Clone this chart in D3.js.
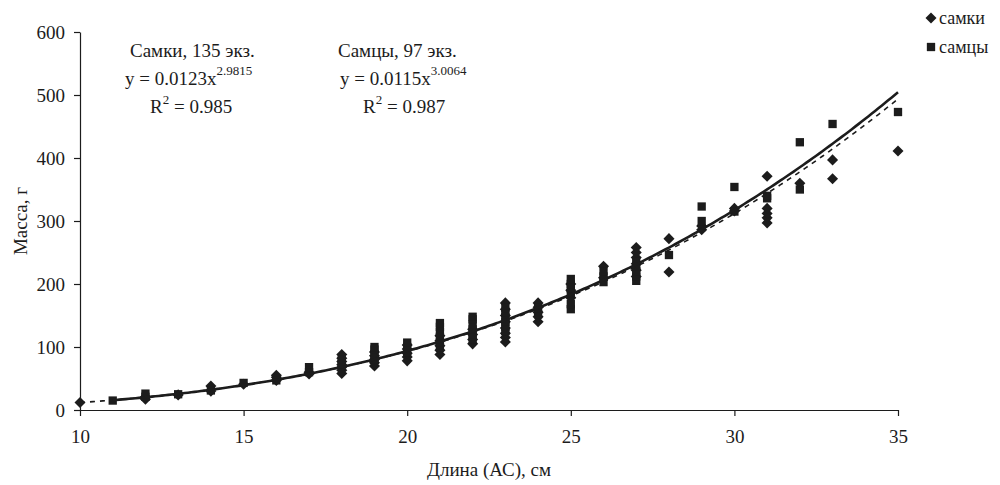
<!DOCTYPE html>
<html>
<head>
<meta charset="utf-8">
<script src="https://cdn.jsdelivr.net/npm/d3@7"></script>
<style>
    body { margin: 0; background: #fff; }
    svg { font-family: "Liberation Serif", "DejaVu Serif", serif; }
</style>
</head>
<body>
<svg id="chart"></svg>
<script>
const width = 1000, height = 485;

// Самки (diamonds): length (cm) and mass (g)
const femaleLength = [10, 12, 12, 13, 14, 14, 15, 16, 16, 16, 17, 17,
    18, 18, 18, 18, 18, 18, 18, 19, 19, 19, 19, 19, 20, 20, 20, 20, 20,
    21, 21, 21, 21, 21, 22, 22, 22, 22, 23, 23, 23, 23, 23, 23, 23, 23,
    24, 24, 24, 24, 24, 25, 25, 25, 26, 26, 27, 27, 27, 27, 27, 27,
    28, 28, 29, 29, 30, 30, 31, 31, 31, 31, 31, 32, 33, 33, 35];
const femaleMass = [12, 17, 21, 24, 30, 38, 41, 47, 52, 55, 57, 60,
    58, 63, 68, 72, 77, 82, 88, 70, 75, 80, 86, 92, 78, 84, 90, 97, 103,
    88, 95, 102, 110, 118, 105, 112, 120, 128, 108, 115, 122, 130, 140, 150, 160, 170,
    140, 148, 155, 163, 170, 178, 190, 200, 210, 228, 212, 222, 232, 242, 250, 258,
    219, 272, 286, 292, 316, 320, 297, 305, 312, 320, 371, 360, 367, 397, 411];

// Самцы (squares)
const maleLength = [11, 12, 12, 13, 14, 15, 16, 17, 17, 18, 18,
    19, 19, 19, 19, 20, 20, 20, 21, 21, 21, 21, 21, 21,
    22, 22, 22, 22, 22, 22, 23, 23, 23, 23, 23, 23, 24, 24,
    25, 25, 25, 25, 25, 25, 26, 26, 26, 27, 27, 27, 27, 27,
    28, 29, 29, 30, 30, 31, 31, 32, 32, 33, 35];
const maleMass = [15, 21, 26, 25, 31, 43, 47, 60, 68, 73, 80,
    80, 88, 96, 100, 92, 100, 107, 100, 108, 116, 124, 132, 138,
    112, 120, 128, 136, 144, 148, 125, 132, 140, 148, 155, 162, 152, 162,
    160, 168, 185, 193, 200, 208, 203, 212, 220, 205, 212, 220, 228, 235,
    246, 300, 323, 315, 354, 336, 340, 350, 425, 454, 473];

// power trendlines y = a * x^b, as printed on the chart
const femaleFit = [0.0123, 2.9815];   // a, b
const maleFit = [0.0115, 3.0064];
const femaleFitRange = [10, 35];
const maleFitRange = [11, 35];

const xTicks = [10, 15, 20, 25, 30, 35];
const yTicks = [0, 100, 200, 300, 400, 500, 600];

const ink = "#1c1c1c";

const svg = d3.select("#chart")
    .attr("width", width)
    .attr("height", height);

const x = d3.scaleLinear().domain([10, 35]).range([80, 898]);
const y = d3.scaleLinear().domain([0, 600]).range([410, 32]);

// axes
const yAxis = svg.append("g")
    .attr("transform", "translate(80,0)")
    .call(d3.axisLeft(y).tickValues(yTicks).tickSize(6).tickSizeOuter(0).tickPadding(9));

const xAxis = svg.append("g")
    .attr("transform", "translate(0,410)")
    .call(d3.axisBottom(x).tickValues(xTicks).tickSize(6).tickSizeOuter(0).tickPadding(14));

[yAxis, xAxis].forEach(ax => {
    ax.selectAll("path, line").attr("stroke", ink).attr("stroke-width", 1.2);
    ax.selectAll("text")
        .attr("fill", ink)
        .style("font-size", "19px")
        .style("font-family", "Liberation Serif");
});

// axis titles
svg.append("text")
    .attr("transform", "translate(23,221) rotate(-90)")
    .attr("text-anchor", "middle")
    .attr("dominant-baseline", "middle")
    .attr("fill", ink)
    .style("font-size", "19px")
    .text("Масса, г");

svg.append("text")
    .attr("x", 489)
    .attr("y", 476)
    .attr("text-anchor", "middle")
    .attr("fill", ink)
    .style("font-size", "19px")
    .text("Длина (АС), см");

// markers
const diamond = d3.symbol().type(d3.symbolDiamond2).size(78);
const square = d3.symbol().type(d3.symbolSquare2).size(88);

svg.append("g").selectAll("path")
    .data(femaleLength.map((l, i) => [l, femaleMass[i]]))
    .join("path")
    .attr("d", diamond)
    .attr("transform", d => `translate(${x(d[0])},${y(d[1])})`)
    .attr("fill", ink);

svg.append("g").selectAll("path")
    .data(maleLength.map((l, i) => [l, maleMass[i]]))
    .join("path")
    .attr("d", square)
    .attr("transform", d => `translate(${x(d[0])},${y(d[1])})`)
    .attr("fill", ink);

// trendlines
const line = d3.line().x(d => x(d[0])).y(d => y(d[1]));

function fitPoints(fit, range) {
    return d3.range(range[0], range[1] + 0.001, 0.1).map(v => [v, fit[0] * Math.pow(v, fit[1])]);
}

svg.append("path")
    .datum(fitPoints(femaleFit, femaleFitRange))
    .attr("d", line)
    .attr("fill", "none")
    .attr("stroke", ink)
    .attr("stroke-width", 1.6)
    .attr("stroke-dasharray", "5,5");

svg.append("path")
    .datum(fitPoints(maleFit, maleFitRange))
    .attr("d", line)
    .attr("fill", "none")
    .attr("stroke", ink)
    .attr("stroke-width", 2.6);

// equations
function equation(xPos, title, a, b, r2) {
    const g = svg.append("g").attr("fill", ink).style("font-size", "19px");
    g.append("text").attr("x", xPos[0]).attr("y", 57).text(title);
    const eq = g.append("text").attr("x", xPos[1]).attr("y", 85);
    eq.append("tspan").text(`y = ${a}x`);
    eq.append("tspan").attr("dy", -10).style("font-size", "13px").text(b);
    const r = g.append("text").attr("x", xPos[2]).attr("y", 113);
    r.append("tspan").text("R");
    r.append("tspan").attr("dy", -9).style("font-size", "13px").text("2");
    r.append("tspan").attr("dy", 9).text(` = ${r2}`);
}

equation([130, 125, 150], "Самки, 135 экз.", femaleFit[0], femaleFit[1].toFixed(4), "0.985");
equation([338, 340, 363], "Самцы, 97 экз.", maleFit[0], maleFit[1].toFixed(4), "0.987");

// legend
const legend = svg.append("g").attr("fill", ink).style("font-size", "18px");
legend.append("path").attr("d", diamond).attr("transform", "translate(931,18)");
legend.append("text").attr("x", 939).attr("y", 18).attr("dy", "0.35em").text("самки");
legend.append("path").attr("d", square).attr("transform", "translate(931,47)");
legend.append("text").attr("x", 939).attr("y", 47).attr("dy", "0.35em").text("самцы");
</script>
</body>
</html>
